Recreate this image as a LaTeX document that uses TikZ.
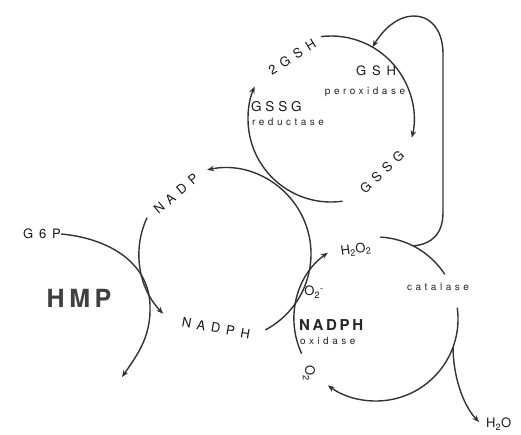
\documentclass[tikz,border=0pt]{standalone}
\usepackage{fontspec}
\setmainfont{TeX Gyre Heros}
\newfontfamily\lblfont[LetterSpace=45]{TeX Gyre Heros}
\newfontfamily\lbltight[LetterSpace=28]{TeX Gyre Heros}
\newfontfamily\smfont[LetterSpace=35]{TeX Gyre Heros}
\newfontfamily\boldfont[LetterSpace=18]{TeX Gyre Heros}
\usetikzlibrary{arrows.meta}
\begin{document}
\begin{tikzpicture}[x=1pt,y=1pt,
  ln/.style={line width=1.4pt, draw=black!80},
  arr/.style={ln, -{Stealth[length=7pt,width=5.5pt]}},
  lbl/.style={font={\lblfont\fontsize{13}{13}\selectfont}, text=black!90, inner sep=0pt},
  lbltwo/.style={font={\lbltight\fontsize{13.5}{13.5}\selectfont}, text=black!90, inner sep=0pt},
  sml/.style={font={\smfont\fontsize{10}{10}\selectfont}, text=black!85, inner sep=0pt},
  bld/.style={font={\boldfont\bfseries\fontsize{15}{15}\selectfont}, text=black!85, inner sep=0pt},
  big/.style={font={\boldfont\bfseries\fontsize{25}{25}\selectfont}, text=black!75, inner sep=0pt}
  ]
\clip (0,0) rectangle (521,434);
\fill[white] (0,0) rectangle (521,434);

% circle centres
\coordinate (T) at (331,315);
\coordinate (N) at (225,180);
\coordinate (B) at (376,115);

% ---- glutathione cycle (top)
\path (T) ++(97:83pt) coordinate (t1s);
\path (T) ++(-82:83pt) coordinate (t2s);
\path (T) ++(60:83pt) coordinate (tj);
\draw[arr] (t1s) arc[start angle=97, end angle=-13, radius=83pt];
\draw[arr] (t2s) arc[start angle=-82, end angle=-203, radius=83pt];

\node[lbl, rotate=32] (gsh2) at (292,377) {2GSH};
\node[lbl] (gshp) at (376,363) {GSH};
\node[sml] (perox) at (365,342) {peroxidase};
\node[lbltwo, anchor=west] (gssgr) at (251,327) {GSSG};
\node[sml, anchor=west] (reduct) at (252,312) {reductase};
\node[lbl, rotate=44] (gssg) at (382,262) {GSSG};

% ---- NADP / NADPH cycle (left)
\path (N) ++(-62:86pt) coordinate (n1s);
\path (N) ++(155:86pt) coordinate (n2s);
\draw[arr] (n1s) arc[start angle=-62, end angle=102, radius=86pt];
\draw[arr] (n2s) arc[start angle=155, end angle=224, radius=86pt];
\node[lbl, rotate=40] (nadp) at (176,240) {NADP};
\node[lbl, rotate=-10] (nadph) at (216,106) {NADPH};

% ---- HMP
\node[lbl] (g6p) at (42,200) {G6P};
\node[big] (hmp) at (79,136) {HMP};
\coordinate (hmpmid) at (150,129);
\coordinate (hmpend) at (122,57);
\draw[arr] (g6p.east) to[out=-5,in=92] (hmpmid) to[out=-88,in=55] (hmpend);

% ---- NADPH oxidase / catalase cycle (bottom right)
\path (B) ++(205:82pt) coordinate (b1s);
\path (B) ++(87:82pt) coordinate (b2s);
\path (B) ++(63:82pt) coordinate (bj);
\path (B) ++(8:82pt) coordinate (b3s);
\path (B) ++(-20:82pt) coordinate (bsplit);
\draw[arr] (b1s) arc[start angle=205, end angle=126, radius=82pt];
\draw[ln] (b2s) arc[start angle=87, end angle=33, radius=82pt];
\draw[arr] (b3s) arc[start angle=8, end angle=-126, radius=82pt];

\node[lbl, rotate=8] (h2o2) at (356,184) {H\textsubscript{2}O\textsubscript{2}};
\node[lbl] (o2m) at (314,142) {O\textsubscript{2}\textsuperscript{-}};
\node[bld, anchor=west] (nadpho) at (299,109) {NADPH};
\node[sml, anchor=west] (oxid) at (300,93) {oxidase};
\node[sml] (cat) at (438,147) {catalase};
\node[lbl, rotate=-90] (o2) at (309,61) {O\textsubscript{2}};
\node[lbl, anchor=west] (h2o) at (486,10) {H\textsubscript{2}O};
\coordinate (h2oend) at (479,12);
\draw[arr] (bsplit) .. controls (453,60) and (462,30) .. (h2oend);

% ---- H2O2 feed loop to GSH peroxidase
\draw[arr] (bj) .. controls (432,190) and (443,200) .. (443,222) -- (443,380) .. controls (443,425) and (400,432) .. (tj);
\end{tikzpicture}
\end{document}
